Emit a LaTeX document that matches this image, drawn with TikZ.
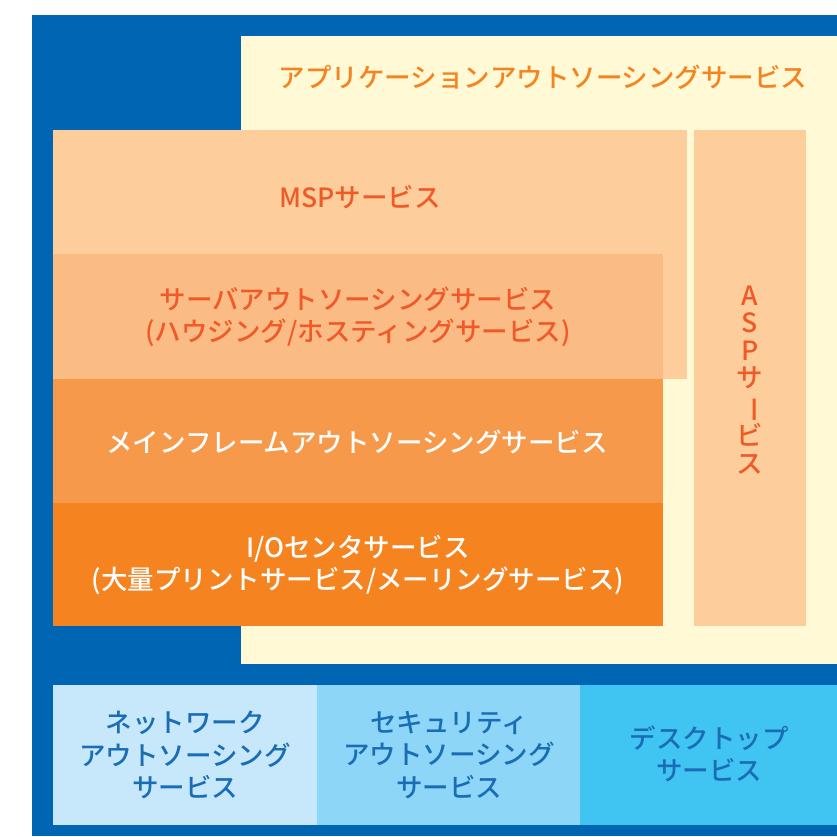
\documentclass[tikz,border=0pt]{standalone}
\usepackage{fontspec}
\usepackage{xcolor}
\usepackage{graphicx}
\usepackage{tikz}
\setmainfont{Noto Sans CJK JP}[UprightFont=* Medium]

\definecolor{bluebg}{HTML}{0066B3}
\definecolor{cream}{HTML}{FFF9D5}
\definecolor{mspfill}{HTML}{FDCE9B}
\definecolor{serverfill}{HTML}{FBBB85}
\definecolor{mainfill}{HTML}{F7994B}
\definecolor{iofill}{HTML}{F5831F}
\definecolor{apptext}{HTML}{F5831F}
\definecolor{msptext}{HTML}{EF5A28}
\definecolor{netfill}{HTML}{C7E8FA}
\definecolor{secfill}{HTML}{8ED6F7}
\definecolor{deskfill}{HTML}{40C5F2}
\definecolor{bottomtext}{HTML}{1A6DB5}

\tikzset{
  lbl/.style={font=\fontsize{26.5}{32.5}\selectfont, align=center, inner sep=0pt}
}

\begin{document}
\begin{tikzpicture}[x=1pt,y=-1pt]
    \useasboundingbox (0,0) rectangle (837,836);
      % frames
      \fill[bluebg] (32,15) rectangle (837,836);
      \fill[cream] (241,36) rectangle (837,664);
      \fill[mspfill] (53,130) rectangle (687,379);
      \fill[mspfill] (694,130) rectangle (806,626);
      \fill[serverfill] (53,254) rectangle (663,379);
      \fill[mainfill] (53,379) rectangle (663,503);
      \fill[iofill] (53,503) rectangle (663,626);
      \fill[netfill] (53,685) rectangle (317,825);
      \fill[secfill] (317,685) rectangle (580,825);
      \fill[deskfill] (580,685) rectangle (837,825);
        % labels
      \node[lbl,text=apptext] (app) at (543,77) {アプリケーションアウトソーシングサービス};
      \node[lbl,text=msptext] (msp) at (360,197) {MSPサービス};
      \node[lbl,text=msptext] (server) at (358,317) {サーバアウトソーシングサービス\\(ハウジング/ホスティングサービス)};
      \node[lbl,text=white] (mainframe) at (357,442) {メインフレームアウトソーシングサービス};
      \node[lbl,text=white] (io) at (358,565) {I/Oセンタサービス\\(大量プリントサービス/メーリングサービス)};
      \node[lbl,text=msptext,font=\fontsize{26.5}{27.5}\selectfont] (asp) at (750,380) {A\\S\\P\\サ\\\rotatebox[origin=c]{-90}{ー}\\ビ\\ス};
      \node[lbl,text=bottomtext] (network) at (185,755) {ネットワーク\\アウトソーシング\\サービス};
      \node[lbl,text=bottomtext] (security) at (449,755) {セキュリティ\\アウトソーシング\\サービス};
      \node[lbl,text=bottomtext] (desktop) at (709,754) {デスクトップ\\サービス};
    \end{tikzpicture}
\end{document}
